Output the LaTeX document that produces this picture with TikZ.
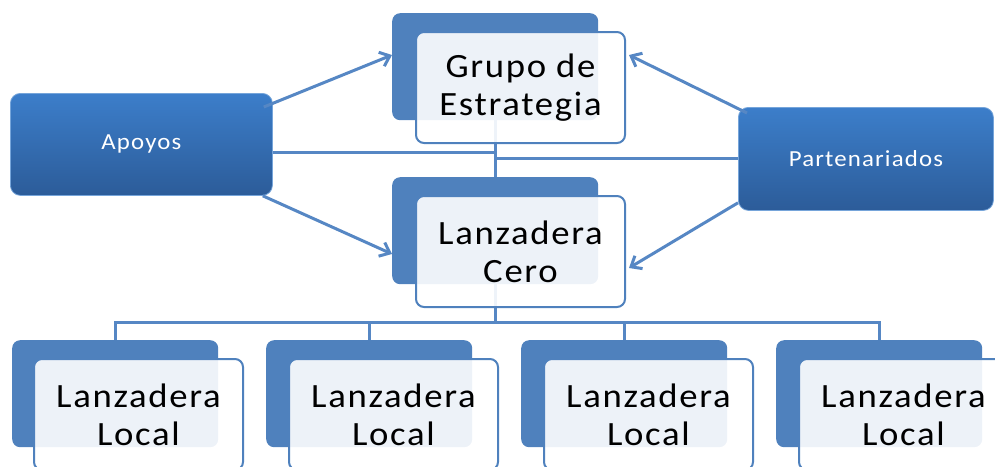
\documentclass[tikz,border=0pt]{standalone}
\usepackage{fontspec}
\setmainfont{Carlito}
\newfontfamily\cardfont[FakeStretch=1.08, LetterSpace=5]{Carlito}
\usetikzlibrary{calc}
\usetikzlibrary{arrows.meta}
\usetikzlibrary{positioning}

\definecolor{cardblue}{RGB}{79,129,189}
\definecolor{linkblue}{RGB}{86,135,196}
\definecolor{topblue}{RGB}{60,126,202}
\definecolor{botblue}{RGB}{44,92,153}

\tikzset{
  backcard/.style={fill=cardblue, rounded corners=8pt, minimum width=206pt,
    minimum height=107pt, inner sep=0pt, anchor=north west},
  frontcard/.style={draw=cardblue, line width=2pt, fill=white, fill opacity=0.9,
    text opacity=1, rounded corners=8pt, minimum width=209pt, minimum height=111pt,
    inner sep=0pt, anchor=north west, align=center,
    font=\cardfont\fontsize{34}{38}\selectfont},
  sidecard/.style={top color=topblue, bottom color=botblue, draw=topblue!70!white,
    line width=0.8pt, rounded corners=10pt, inner sep=0pt, anchor=north west,
    text=white, font=\cardfont\fontsize{23}{28}\selectfont},
  link/.style={draw=linkblue, line width=3pt},
  linkarrow/.style={link, -{Straight Barb[length=9pt,width=15pt]}}
}

\begin{document}
\begin{tikzpicture}[x=1pt, y=-1pt]
    \clip (0,0) rectangle (995,466);

    % Side boxes
    \node[sidecard, minimum width=262pt, minimum height=102pt] (Apoyos) at (10,93) {Apoyos};
    \node[sidecard, minimum width=255pt, minimum height=103pt] (Parten) at (738,107) {Partenariados};

    % Back cards
    \node[backcard] (GrupoB) at (392,13) {};
    \node[backcard] (CeroB) at (392,177) {};
    \node[backcard] (Local1B) at (12,340) {};
    \node[backcard] (Local2B) at (266,340) {};
    \node[backcard] (Local3B) at (521,340) {};
    \node[backcard] (Local4B) at (776,340) {};

    % Connectors (under the front cards)
    \coordinate (bus) at (495,322);
    \coordinate (ApoyosOut) at ($(Apoyos.east)+(0,8)$);
    \draw[link] (GrupoB.south) -- (CeroB.north);
    \draw[link] (ApoyosOut) -- (ApoyosOut -| GrupoB.south);
    \draw[link] (Parten.west) -- (Parten.west -| GrupoB.south);
    \draw[link] (CeroB.south) -- (CeroB.south |- bus);
    \draw[link] (Local1B.north) -- (Local1B.north |- bus) -- (Local4B.north |- bus) -- (Local4B.north);
    \draw[link] (Local2B.north) -- (Local2B.north |- bus);
    \draw[link] (Local3B.north) -- (Local3B.north |- bus);

    % Front cards
    \node[frontcard] (GrupoF) at (415,31) {Grupo de\\Estrategia};
    \node[frontcard] (CeroF) at (415,195) {Lanzadera\\Cero};
    \node[frontcard] (Local1F) at (33,358) {Lanzadera\\Local};
    \node[frontcard] (Local2F) at (288,358) {Lanzadera\\Local};
    \node[frontcard] (Local3F) at (543,358) {Lanzadera\\Local};
    \node[frontcard] (Local4F) at (798,358) {Lanzadera\\Local};

    % Arrows
    \draw[linkarrow] ($(Apoyos.north east)+(-9,14)$) -- ($(GrupoB.north west)+(0,42)$);
    \draw[linkarrow] ($(Apoyos.south east)+(-10,0)$) -- ($(CeroB.north west)+(0,77)$);
    \draw[linkarrow] ($(Parten.north west)+(9,6)$) -- ($(GrupoF.north east)+(3,24)$);
    \draw[linkarrow] ($(Parten.south west)+(0,-8)$) -- ($(CeroF.north east)+(3,73)$);

\end{tikzpicture}
\end{document}
